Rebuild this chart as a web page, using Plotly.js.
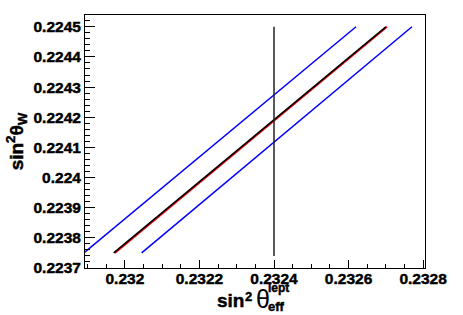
<!DOCTYPE html>
<html>
<head>
<meta charset="utf-8">
<script src="https://cdn.plot.ly/plotly-3.0.1.min.js"></script>
<style>
html,body{margin:0;padding:0;background:#fff;}
#chart{width:463px;height:315px;}
#chart .xtick text, #chart .ytick text, #chart .ytitle, #chart .annotation-text.heavy { stroke: #000; stroke-width: 0.45px; }
</style>
</head>
<body>
<div id="chart"></div>
<script>
// Data
var lineY = [0.22375, 0.2245];
var centerX = [0.23197, 0.2327];
var redX = [0.231973, 0.232703];
var blueLeftX = [0.23189, 0.23262];
var blueRightX = [0.232045, 0.23277];
var vertX = [0.2324, 0.2324];
var vertY = [0.22374, 0.2245];

var xTickVals = [0.232, 0.2322, 0.2324, 0.2326, 0.2328];
var xTickLabels = ['0.232', '0.2322', '0.2324', '0.2326', '0.2328'];
var yTickVals = [0.2237, 0.2238, 0.2239, 0.224, 0.2241, 0.2242, 0.2243, 0.2244, 0.2245];
var yTickLabels = ['0.2237', '0.2238', '0.2239', '0.224', '0.2241', '0.2242', '0.2243', '0.2244', '0.2245'];

var xRange = [0.231893, 0.232805];
var yRange = [0.2237, 0.224539];

function bold(a) { return a.map(function (s) { return '<b>' + s + '</b>'; }); }

var traces = [
  {x: blueLeftX, y: lineY, mode: 'lines', line: {color: '#0000ff', width: 1.5}, hoverinfo: 'none'},
  {x: blueRightX, y: lineY, mode: 'lines', line: {color: '#0000ff', width: 1.5}, hoverinfo: 'none'},
  {x: redX, y: lineY, mode: 'lines', line: {color: '#ff0000', width: 2}, hoverinfo: 'none'},
  {x: centerX, y: lineY, mode: 'lines', line: {color: '#000000', width: 1.6}, hoverinfo: 'none'},
  {x: vertX, y: vertY, mode: 'lines', line: {color: '#222222', width: 1.5}, hoverinfo: 'none'}
];

var FAM = 'Liberation Sans, Arial, Helvetica, sans-serif';
var tickFont = {family: FAM, size: 15.5, color: '#000', weight: 700};
var titleFont = {family: FAM, size: 19, color: '#000', weight: 700};

// helpers for paper coordinates of the bottom title pieces
var L = 85, W = 340, B = 268, H = 253;
function px(x) { return (x - L) / W; }
function py(y) { return (B - y) / H; }

var layout = {
  width: 463, height: 315,
  margin: {l: 85, r: 38, t: 15, b: 47, pad: 0},
  paper_bgcolor: '#fff', plot_bgcolor: '#fff',
  showlegend: false,
  xaxis: {
    range: xRange, showgrid: false, zeroline: false,
    showline: true, linecolor: '#000', linewidth: 1, mirror: true,
    ticks: 'inside', ticklen: 8, tickwidth: 1, tickcolor: '#000',
    tickmode: 'array', tickvals: xTickVals, ticktext: bold(xTickLabels),
    ticklabelstandoff: -4,
    minor: {ticks: 'inside', ticklen: 4, tickmode: 'linear', dtick: 0.00005, tick0: 0.232, tickcolor: '#000', showgrid: false},
    tickfont: tickFont
  },
  yaxis: {
    range: yRange, showgrid: false, zeroline: false,
    showline: true, linecolor: '#000', linewidth: 1, mirror: true,
    ticks: 'inside', ticklen: 10, tickwidth: 1, tickcolor: '#000',
    tickmode: 'array', tickvals: yTickVals, ticktext: bold(yTickLabels),
    minor: {ticks: 'inside', ticklen: 5, tickmode: 'linear', dtick: 0.00002, tick0: 0.2237, tickcolor: '#000', showgrid: false},
    tickfont: tickFont,
    title: {text: '<b>sin<sup>2</sup>θ<sub>W</sub></b>', font: titleFont, standoff: 4}
  },
  annotations: [
    {xref: 'paper', yref: 'paper', x: px(215), y: py(300.7), xanchor: 'left', yanchor: 'middle',
     text: '<b>sin</b>', showarrow: false, font: titleFont},
    {xref: 'paper', yref: 'paper', x: px(243), y: py(296.7), xanchor: 'left', yanchor: 'middle',
     text: '<b>2</b>', showarrow: false, font: {family: FAM, size: 13, color: '#000', weight: 700}},
    {xref: 'paper', yref: 'paper', x: px(254), y: py(298.7), xanchor: 'left', yanchor: 'middle',
     text: 'θ', showarrow: false, font: {family: FAM, size: 25, color: '#000'}},
    {xref: 'paper', yref: 'paper', x: px(266), y: py(288), xanchor: 'left', yanchor: 'middle',
     text: '<b>lept</b>', showarrow: false, font: {family: FAM, size: 12, color: '#000', weight: 700}},
    {xref: 'paper', yref: 'paper', x: px(266), y: py(306.5), xanchor: 'left', yanchor: 'middle',
     text: '<b>eff</b>', showarrow: false, font: {family: FAM, size: 13, color: '#000', weight: 700}}
  ]
};

Plotly.newPlot('chart', traces, layout, {staticPlot: true, displayModeBar: false}).then(function (gd) {
  var ann = gd.querySelectorAll('.annotation-text');
  [0, 1, 3, 4].forEach(function (i) { if (ann[i]) ann[i].classList.add('heavy'); });
});
</script>
</body>
</html>
